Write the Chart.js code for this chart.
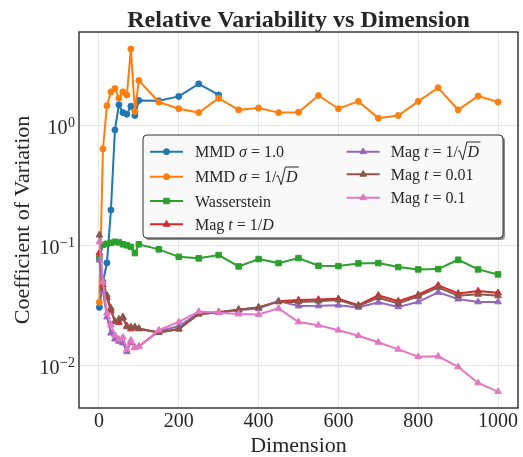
<!DOCTYPE html>
<html>
<head>
<meta charset="utf-8">
<script src="https://cdn.jsdelivr.net/npm/chart.js@4.4.0/dist/chart.umd.min.js"></script>
<style>
  html, body { margin: 0; padding: 0; background: #fff; }
</style>
</head>
<body>
<canvas id="cvChart" width="523" height="457"></canvas>
<script>
// dimensions on the x axis
const dims = [1, 10, 20, 30, 40, 50, 60, 70, 80, 90, 100, 150, 200, 250, 300, 350, 400, 450, 500, 550, 600, 650, 700, 750, 800, 850, 900, 950, 1000];

// coefficient of variation per method
const mmdFixed = [0.0307, 0.050, 0.0722, 0.199, 0.926, 1.50, 1.29, 1.25, 1.46, 1.22, 1.63, 1.62, 1.76, 2.24, 1.81];
const mmdScaled = [0.0338, 0.643, 1.47, 1.92, 2.05, 1.70, 1.92, 1.81, 4.37, 1.32, 2.39, 1.58, 1.39, 1.29, 1.70, 1.36, 1.41, 1.29, 1.30, 1.79, 1.39, 1.60, 1.16, 1.22, 1.60, 2.08, 1.36, 1.77, 1.58];
const wasserstein = [0.079, 0.102, 0.104, 0.106, 0.108, 0.107, 0.103, 0.101, 0.098, 0.087, 0.103, 0.0935, 0.081, 0.0787, 0.0838, 0.0674, 0.0776, 0.0718, 0.079, 0.0682, 0.0678, 0.0714, 0.0718, 0.0665, 0.0636, 0.064, 0.0766, 0.0636, 0.0578];
const magInvD = [0.0875, 0.047, 0.037, 0.029, 0.0235, 0.023, 0.025, 0.0215, 0.0203, 0.021, 0.0203, 0.0190, 0.0203, 0.027, 0.028, 0.0295, 0.0307, 0.0346, 0.0353, 0.0357, 0.0362, 0.0320, 0.0386, 0.0346, 0.0391, 0.0468, 0.0401, 0.0420, 0.0406];
const magInvSqrtD = [0.076, 0.0426, 0.0255, 0.0187, 0.0167, 0.016, 0.0155, 0.0131, 0.0157, 0.0143, 0.0145, 0.0194, 0.0214, 0.0275, 0.0278, 0.029, 0.030, 0.0346, 0.0315, 0.0316, 0.0320, 0.0307, 0.0338, 0.0310, 0.0341, 0.0409, 0.0360, 0.0341, 0.0341];
const mag001 = [0.123, 0.0444, 0.0388, 0.0303, 0.0232, 0.0245, 0.0256, 0.0211, 0.0211, 0.021, 0.0205, 0.019, 0.0202, 0.027, 0.0278, 0.0294, 0.0307, 0.0341, 0.0341, 0.0346, 0.0353, 0.0315, 0.0369, 0.0331, 0.0379, 0.0450, 0.0383, 0.0394, 0.0383];
const mag01 = [0.108, 0.050, 0.0275, 0.022, 0.018, 0.0166, 0.0173, 0.0137, 0.0163, 0.0141, 0.0145, 0.0198, 0.0232, 0.0283, 0.0277, 0.027, 0.0268, 0.0301, 0.0232, 0.0218, 0.0198, 0.0178, 0.0157, 0.0137, 0.0119, 0.0120, 0.0098, 0.0072, 0.0061];

const xTicks = [0, 200, 400, 600, 800, 1000];
const yTicks = [0.01, 0.1, 1];

const SERIF = '"Liberation Serif", "DejaVu Serif", serif';
const TXT = '#262626';

// legend labels as pieces: r = roman, i = italic, s = sqrt of italic
const series = [
  { vals: mmdFixed,    color: '#1f77b4', style: 'circle',   r: 3,   label: [['r','MMD '],['i','σ'],['r',' = 1.0']] },
  { vals: mmdScaled,   color: '#ff7f0e', style: 'circle',   r: 3,   label: [['r','MMD '],['i','σ'],['r',' = 1/'],['s','D']] },
  { vals: wasserstein, color: '#2ca02c', style: 'rect',     r: 3.9, label: [['r','Wasserstein']] },
  { vals: magInvD,     color: '#d62728', style: 'triangle', r: 3.8, label: [['r','Mag '],['i','t'],['r',' = 1/'],['i','D']] },
  { vals: magInvSqrtD, color: '#9467bd', style: 'triangle', r: 3.8, label: [['r','Mag '],['i','t'],['r',' = 1/'],['s','D']] },
  { vals: mag001,      color: '#8c564b', style: 'triangle', r: 3.8, label: [['r','Mag '],['i','t'],['r',' = 0.01']] },
  { vals: mag01,       color: '#e377c2', style: 'triangle', r: 3.8, label: [['r','Mag '],['i','t'],['r',' = 0.1']] }
];

function drawRich(ctx, parts, x, base, size) {
  parts.forEach(p => {
    const kind = p[0], t = p[1];
    if (kind === 's') {
      ctx.font = 'italic ' + size + 'px ' + SERIF;
      const w = ctx.measureText(t).width;
      ctx.save();
      ctx.lineWidth = 1;
      ctx.strokeStyle = TXT;
      ctx.beginPath();
      ctx.moveTo(x, base - size * 0.36);
      ctx.lineTo(x + size * 0.1, base - size * 0.42);
      ctx.lineTo(x + size * 0.3, base + size * 0.16);
      ctx.lineTo(x + size * 0.56, base - size * 0.95);
      ctx.lineTo(x + size * 0.62 + w + 1, base - size * 0.95);
      ctx.stroke();
      ctx.restore();
      ctx.fillText(t, x + size * 0.6, base);
      x += size * 0.62 + w + 1;
    } else {
      ctx.font = (kind === 'i' ? 'italic ' : '') + size + 'px ' + SERIF;
      ctx.fillText(t, x, base);
      x += ctx.measureText(t).width;
    }
  });
}

const decor = {
  id: 'decor',
  beforeDraw(chart) {
    const ctx = chart.ctx;
    ctx.save();
    ctx.fillStyle = '#fff';
    ctx.fillRect(0, 0, chart.width, chart.height);
    ctx.restore();
  },
  afterDraw(chart) {
    const ctx = chart.ctx;
    const a = chart.chartArea;
    ctx.save();

    // frame
    ctx.strokeStyle = '#1a1a1a';
    ctx.lineWidth = 1.3;
    ctx.strokeRect(a.left, a.top, a.right - a.left, a.bottom - a.top);

    // title
    ctx.fillStyle = TXT;
    ctx.font = 'bold 24px ' + SERIF;
    ctx.textAlign = 'center';
    ctx.textBaseline = 'alphabetic';
    ctx.fillText('Relative Variability vs Dimension', (a.left + a.right) / 2, 26.5);

    // y tick labels 10^k
    const ys = chart.scales.y;
    ctx.textAlign = 'right';
    yTicks.forEach(v => {
      const y = ys.getPixelForValue(v);
      const e = Math.round(Math.log10(v));
      const sup = e < 0 ? '\u2212' + (-e) : String(e);
      ctx.font = '14px ' + SERIF;
      const sw = ctx.measureText(sup).width;
      const right = a.left - 4;
      ctx.fillText(sup, right, y + 1);
      ctx.font = '20px ' + SERIF;
      ctx.fillText('10', right - sw - 0.5, y + 8);
    });

    // legend
    const bx = a.left + 64, by = a.top + 103, bw = 360, bh = 103;
    ctx.fillStyle = 'rgba(0,0,0,0.45)';
    ctx.beginPath();
    ctx.roundRect(bx + 2, by + 2, bw, bh, 4);
    ctx.fill();
    ctx.fillStyle = '#f9f9f9';
    ctx.strokeStyle = '#333';
    ctx.lineWidth = 1;
    ctx.beginPath();
    ctx.roundRect(bx, by, bw, bh, 4);
    ctx.fill();
    ctx.stroke();

    const rows = [
      [7, 52, 16.7], [7, 52, 41.7], [7, 52, 66], [7, 52, 89.3],
      [203.7, 247.7, 16.7], [203.7, 247.7, 39.3], [203.7, 247.7, 62.7]
    ];
    series.forEach((s, i) => {
      const [lx, tx, ry] = rows[i];
      const y = by + ry;
      ctx.strokeStyle = s.color;
      ctx.fillStyle = s.color;
      ctx.lineWidth = 2;
      ctx.beginPath();
      ctx.moveTo(bx + lx, y);
      ctx.lineTo(bx + lx + 33, y);
      ctx.stroke();
      ctx.lineWidth = 1;
      Chart.helpers.drawPoint(ctx, { pointStyle: s.style, radius: s.r, rotation: 0, borderWidth: 1 }, bx + lx + 16.5, y);
      ctx.fillStyle = TXT;
      ctx.textAlign = 'left';
      drawRich(ctx, s.label, bx + tx, y + 5.5, 16);
    });
    ctx.restore();
  }
};

const datasets = series.map((s, i) => ({
  data: s.vals.map((v, k) => ({ x: dims[k], y: v })),
  borderColor: s.color,
  backgroundColor: s.color,
  pointBorderColor: s.color,
  pointBackgroundColor: s.color,
  pointStyle: s.style,
  pointRadius: s.r,
  pointBorderWidth: 1,
  borderWidth: 2,
  tension: 0,
  fill: false,
  order: series.length - i
}));

new Chart(document.getElementById('cvChart').getContext('2d'), {
  type: 'line',
  data: { datasets: datasets },
  options: {
    responsive: false,
    animation: false,
    devicePixelRatio: 1,
    layout: { padding: { top: 32, right: 3, left: 0, bottom: 0 } },
    plugins: {
      legend: { display: false },
      tooltip: { enabled: false },
      title: { display: false }
    },
    scales: {
      x: {
        type: 'linear',
        min: -50,
        max: 1050,
        afterBuildTicks: axis => { axis.ticks = xTicks.map(v => ({ value: v })); },
        afterFit: axis => { axis.height = 49; },
        grid: { color: '#e6e6e6', lineWidth: 1, drawTicks: false },
        border: { display: false },
        ticks: {
          padding: 2,
          color: TXT,
          maxRotation: 0,
          callback: v => String(v),
          font: { family: SERIF, size: 20 }
        },
        title: {
          display: true,
          text: 'Dimension',
          color: TXT,
          padding: { top: 0, bottom: 0 },
          font: { family: SERIF, size: 22, lineHeight: 1 }
        }
      },
      y: {
        type: 'logarithmic',
        min: 0.00445,
        max: 6.06,
        afterBuildTicks: axis => { axis.ticks = yTicks.map(v => ({ value: v })); },
        afterFit: axis => { axis.width = 79; },
        grid: { color: '#e6e6e6', lineWidth: 1, drawTicks: false },
        border: { display: false },
        ticks: { display: false },
        title: {
          display: true,
          text: 'Coefficient of Variation',
          color: TXT,
          padding: { top: 10, bottom: 0 },
          font: { family: SERIF, size: 22 }
        }
      }
    }
  },
  plugins: [decor]
});
</script>
</body>
</html>
